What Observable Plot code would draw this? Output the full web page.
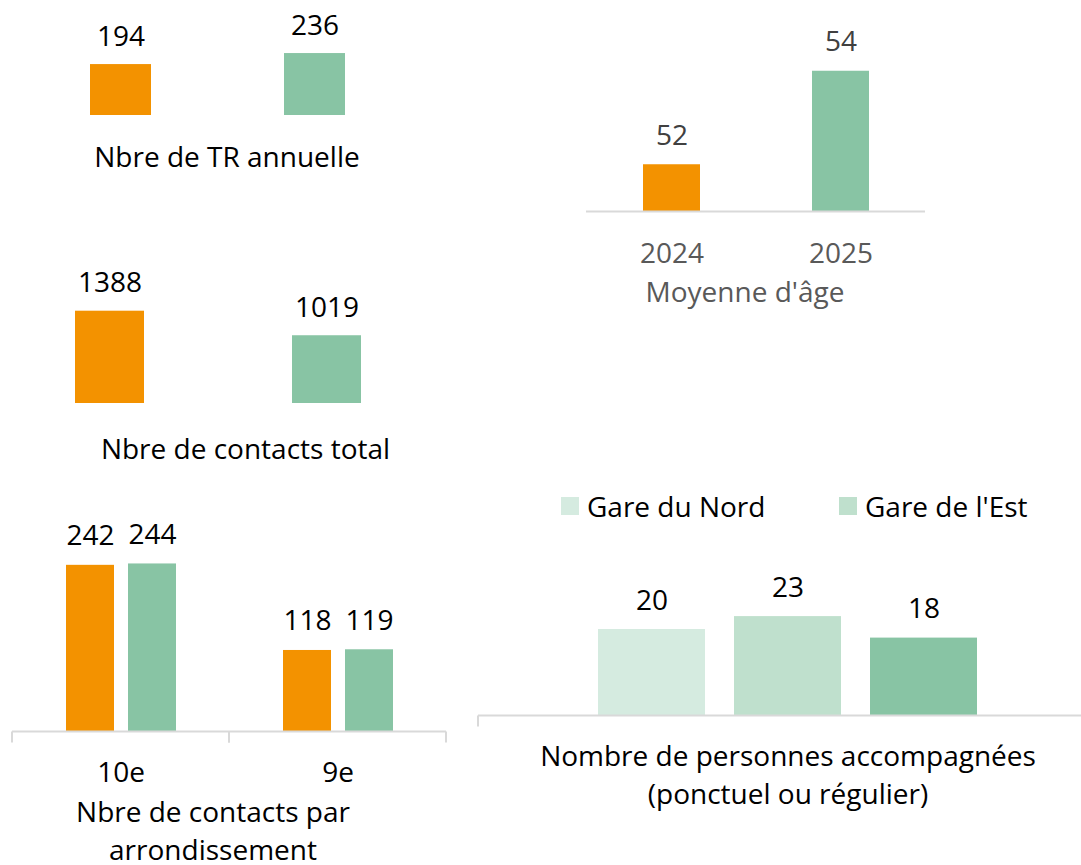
<!DOCTYPE html>
<html>
<head>
<meta charset="utf-8">
<script src="https://cdn.jsdelivr.net/npm/d3@7"></script>
<script src="https://cdn.jsdelivr.net/npm/@observablehq/plot@0.6"></script>
<style>
  html, body { margin: 0; padding: 0; background: #ffffff; }
  #root { position: relative; width: 1081px; height: 865px; overflow: hidden; font-family: "Open Sans", sans-serif; background: #ffffff; }
  .panel { position: absolute; }
  .panel svg { max-width: none !important; display: block; }
  .title { position: absolute; font-size: 28px; line-height: 38px; text-align: center; white-space: nowrap; transform: translateX(-50%); color: #000; }
  .legend-item { position: absolute; display: flex; align-items: center; font-size: 28px; line-height: 38px; white-space: nowrap; color: #000; }
  .legend-swatch { width: 18px; height: 18px; margin-right: 8px; }
</style>
</head>
<body>
<div id="root"></div>
<script>
// ---------- data ----------
const years = ["2024", "2025"];
const yearColors = ["#f39200", "#88c4a4"];

const trAnnuelle = [194, 236];          // Nbre de TR annuelle
const contactsTotal = [1388, 1019];     // Nbre de contacts total
const moyenneAge = [52, 54];            // Moyenne d'âge
const ageAxis = [51, 55];               // axis range of the age chart

const arrondissements = ["10e", "9e"];
const contactsArr2024 = [242, 118];
const contactsArr2025 = [244, 119];

const seriesKeys = ["Gare du Nord", "Gare de l'Est", "série 3"];
const legendLabels = ["Gare du Nord", "Gare de l'Est"];
const personnes = [20, 23, 18];
const gareColors = ["#d5ebe0", "#bfe0cd", "#88c4a4"];

const titles = {
  tr: "Nbre de TR annuelle",
  total: "Nbre de contacts total",
  age: "Moyenne d'âge",
  arr: ["Nbre de contacts par", "arrondissement"],
  pers: ["Nombre de personnes accompagnées", "(ponctuel ou régulier)"]
};

// ---------- helpers ----------
const root = document.getElementById("root");
const FONT = {fontFamily: "'Open Sans', sans-serif", fontSize: "28px", background: "transparent", overflow: "visible", maxWidth: "none"};
const AXIS_GRAY = "#d9d9d9";

function place(el, left, top) {
  const wrap = document.createElement("div");
  wrap.className = "panel";
  wrap.style.left = left + "px";
  wrap.style.top = top + "px";
  el.style.maxWidth = "none";
  wrap.appendChild(el);
  root.appendChild(wrap);
}
function title(lines, cx, top, color = "#000") {
  const d = document.createElement("div");
  d.className = "title";
  d.style.left = cx + "px";
  d.style.top = top + "px";
  d.style.color = color;
  d.innerHTML = [].concat(lines).map(s => s.replace(/&/g, "&amp;").replace(/</g, "&lt;")).join("<br>");
  root.appendChild(d);
}
// draws short category separators under the baseline at both ends of the x range
function separators(index, scales, values, dims, ctx, next) {
  const g = next(index, scales, values, dims, ctx);
  const y0 = scales.y(0);
  for (const x of scales.x.range()) {
    d3.select(g).append("line")
      .attr("x1", x).attr("x2", x).attr("y1", y0).attr("y2", y0 + 11)
      .attr("stroke", AXIS_GRAY).attr("stroke-width", 2);
  }
  return g;
}

// ---------- chart 1 : Nbre de TR annuelle ----------
{
  const data = years.map((y, i) => ({year: y, value: trAnnuelle[i]}));
  const p = Plot.plot({
    width: 440, height: 130,
    marginLeft: 23.5, marginRight: 28.5, marginTop: 10, marginBottom: 15,
    style: FONT,
    x: {type: "band", domain: years, paddingInner: 0.686, paddingOuter: 0.343, axis: null},
    y: {domain: [0, 400], axis: null},
    color: {domain: years, range: yearColors},
    marks: [
      Plot.barY(data, {x: "year", y: "value", fill: "year"}),
      Plot.text(data, {x: "year", y: "value", text: d => String(d.value), lineAnchor: "bottom", dy: -19, fill: "#000"})
    ]
  });
  place(p, 0, 0);
  title(titles.tr, 227, 137);
}

// ---------- chart 2 : Nbre de contacts total ----------
{
  const data = years.map((y, i) => ({year: y, value: contactsTotal[i]}));
  const p = Plot.plot({
    width: 440, height: 150,
    marginLeft: 1, marginRight: 5, marginTop: 10, marginBottom: 7,
    style: FONT,
    x: {type: "band", domain: years, paddingInner: 0.682, paddingOuter: 0.341, axis: null},
    y: {domain: [0, 2000], axis: null},
    color: {domain: years, range: yearColors},
    marks: [
      Plot.barY(data, {x: "year", y: "value", fill: "year"}),
      Plot.text(data, {x: "year", y: "value", text: d => String(d.value), lineAnchor: "bottom", dy: -19, fill: "#000"})
    ]
  });
  place(p, 0, 260);
  title(titles.total, 245.5, 429);
}

// ---------- chart 3 : Moyenne d'âge ----------
{
  const data = years.map((y, i) => ({year: y, value: moyenneAge[i]}));
  const p = Plot.plot({
    width: 420, height: 280,
    marginLeft: 46, marginRight: 35, marginTop: 24, marginBottom: 69,
    style: {...FONT, color: "#595959"},
    x: {type: "band", domain: years, paddingInner: 0.664, paddingOuter: 0.332},
    y: {domain: ageAxis, axis: null},
    color: {domain: years, range: yearColors},
    marks: [
      Plot.barY(data, {x: "year", y1: ageAxis[0], y2: "value", fill: "year"}),
      Plot.ruleY([ageAxis[0]], {stroke: AXIS_GRAY, strokeWidth: 2}),
      Plot.text(data, {x: "year", y: "value", text: d => String(d.value), lineAnchor: "bottom", dy: -20, fill: "#404040"}),
      Plot.axisX({tickSize: 0, tickPadding: 32, label: null, fill: "#595959"})
    ]
  });
  place(p, 540, 0);
  title(titles.age, 745, 272, "#595959");
}

// ---------- chart 4 : Nbre de contacts par arrondissement ----------
{
  const data = [];
  arrondissements.forEach((a, i) => {
    data.push({arr: a, year: years[0], value: contactsArr2024[i]});
    data.push({arr: a, year: years[1], value: contactsArr2025[i]});
  });
  const p = Plot.plot({
    width: 460, height: 300,
    marginLeft: 12, marginRight: 14, marginTop: 45, marginBottom: 49,
    style: FONT,
    fx: {domain: arrondissements, padding: 0, axis: null},
    x: {type: "band", domain: years, paddingInner: 0.226, paddingOuter: 0.863, axis: null},
    y: {domain: [0, 300], axis: null},
    color: {domain: years, range: yearColors},
    marks: [
      Plot.barY(data, {fx: "arr", x: "year", y: "value", fill: "year"}),
      Plot.ruleY([0], {stroke: AXIS_GRAY, strokeWidth: 2, render: separators}),
      Plot.text(data, {fx: "arr", x: "year", y: "value", text: d => String(d.value), lineAnchor: "bottom", dy: -20, fill: "#000"}),
      Plot.axisFx({anchor: "bottom", tickSize: 0, tickPadding: 31, label: null, fill: "#000"})
    ]
  });
  place(p, 0, 480);
  title(titles.arr, 213, 792);
}

// ---------- chart 5 : Nombre de personnes accompagnées ----------
{
  const data = seriesKeys.map((k, i) => ({serie: k, value: personnes[i]}));
  const p = Plot.plot({
    width: 640, height: 190,
    marginLeft: 8, marginRight: 12, marginTop: 46, marginBottom: 15,
    style: FONT,
    x: {type: "band", domain: seriesKeys, paddingInner: 0.212, paddingOuter: 0.869, axis: null},
    y: {domain: [0, 30], axis: null},
    color: {domain: seriesKeys, range: gareColors},
    marks: [
      Plot.barY(data, {x: "serie", y: "value", fill: "serie"}),
      Plot.ruleY([0], {stroke: AXIS_GRAY, strokeWidth: 2, render: separators}),
      Plot.text(data, {x: "serie", y: "value", text: d => String(d.value), lineAnchor: "bottom", dy: -20, fill: "#000"})
    ]
  });
  place(p, 470, 540);
  title(titles.pers, 788, 736);

  legendLabels.forEach((label, i) => {
    const item = document.createElement("div");
    item.className = "legend-item";
    item.style.left = (561 + i * 278) + "px";
    item.style.top = "487px";
    const sw = document.createElement("span");
    sw.className = "legend-swatch";
    sw.style.background = gareColors[i];
    const tx = document.createElement("span");
    tx.textContent = label;
    item.appendChild(sw);
    item.appendChild(tx);
    root.appendChild(item);
  });
}
</script>
</body>
</html>
